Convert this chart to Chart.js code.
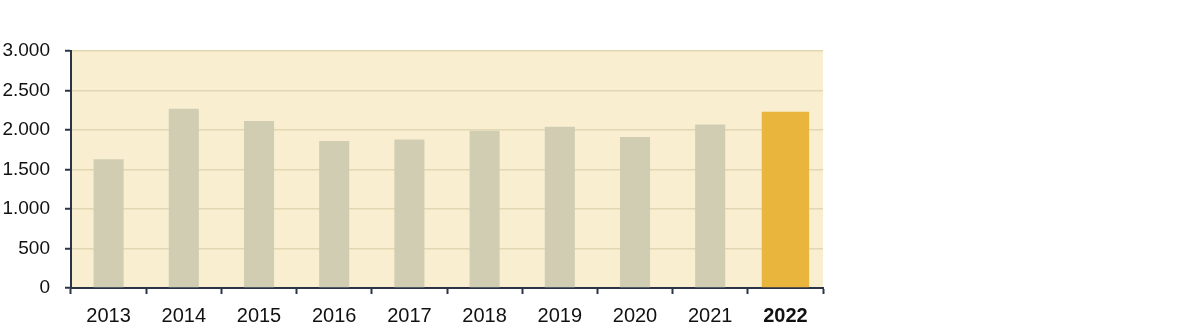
<!DOCTYPE html>
<html><head><meta charset="utf-8">
<script src="https://cdn.jsdelivr.net/npm/chart.js@4/dist/chart.umd.min.js"></script>
<style>html,body{margin:0;padding:0;background:#fff}#wrap{width:1181px;height:329px}</style>
</head><body><div id="wrap"><canvas id="c" width="1181" height="329"></canvas></div>
<script>
const categories = ['2013','2014','2015','2016','2017','2018','2019','2020','2021','2022'];
const greyValues = [1630, 2270, 2115, 1860, 1880, 1990, 2040, 1910, 2070, null];
const highlightValues = [null, null, null, null, null, null, null, null, null, 2230];
const yTicks = [0, 500, 1000, 1500, 2000, 2500, 3000];

const AXIS = '#2b3447';
const FONT = '"Liberation Sans", Arial, sans-serif';
const bgPlugin = {
  id: 'bg',
  beforeDraw(chart) {
    const {ctx, chartArea: a} = chart;
    ctx.save();
    ctx.fillStyle = '#f9efd0';
    ctx.fillRect(a.left, a.top, a.right - a.left, a.bottom - a.top);
    ctx.restore();
  }
};
const fmt = v => v.toLocaleString('de-DE');

new Chart(document.getElementById('c'), {
  type: 'bar',
  data: {
    labels: categories,
    datasets: [
      {data: greyValues, backgroundColor: '#d0cdb3', barPercentage: 0.4, categoryPercentage: 1},
      {data: highlightValues, backgroundColor: '#e9b53d', barPercentage: 0.63, categoryPercentage: 1}
    ]
  },
  options: {
    responsive: false,
    animation: false,
    devicePixelRatio: 1,
    layout: {padding: {top: 51, right: 358, left: 0, bottom: 0}},
    plugins: {legend: {display: false}, tooltip: {enabled: false}},
    datasets: {bar: {grouped: false}},
    scales: {
      x: {
        grid: {display: true, drawOnChartArea: false, offset: true, tickColor: AXIS, tickLength: 6, tickWidth: 2},
        border: {display: true, color: AXIS, width: 2},
        ticks: {
          color: '#111',
          padding: 10,
          font: ctx => ({family: FONT, size: 20, weight: ctx.index === 9 ? 'bold' : 'normal'})
        },
        afterFit: s => { s.height = 41; }
      },
      y: {
        min: 0, max: 3000,
        afterBuildTicks: s => { s.ticks = yTicks.map(v => ({value: v})); },
        grid: {color: '#e2d7b3', lineWidth: 1.5, tickColor: AXIS, tickLength: 6, tickWidth: 2},
        border: {display: true, color: AXIS, width: 2},
        ticks: {color: '#111', padding: 15, font: {family: FONT, size: 19}, callback: v => fmt(v)},
        afterFit: s => { s.width = 71; }
      }
    }
  },
  plugins: [bgPlugin]
});
</script></body></html>
